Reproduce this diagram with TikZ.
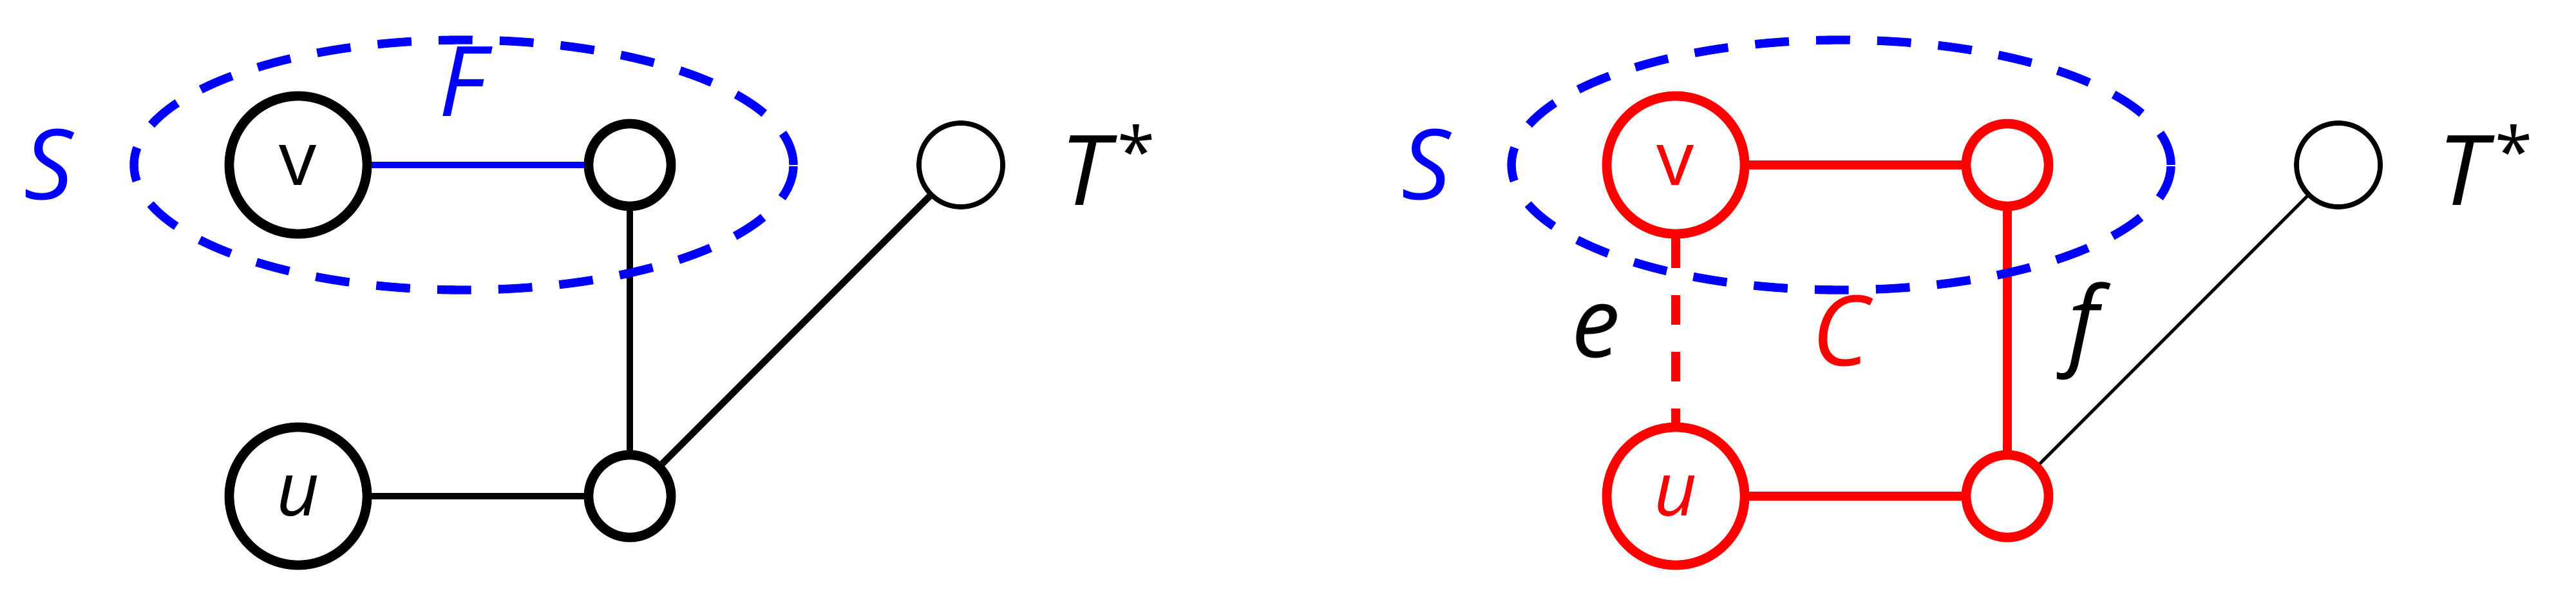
\documentclass[tikz,border=0pt]{standalone}
\usepackage{fontspec}
\setmainfont{Open Sans}
\usepackage{xcolor}
\usetikzlibrary{math}
\definecolor{myblue}{RGB}{0,0,255}
\definecolor{myred}{RGB}{255,0,0}

\tikzset{
 bignode/.style={circle,draw,line width=4.2pt,minimum size=2.14cm,inner sep=0pt,font=\fontsize{33}{35}\selectfont},
 smallnode/.style={circle,draw,line width=4.2pt,minimum size=1.28cm,inner sep=0pt},
 tnode/.style={circle,draw,line width=2.2pt,minimum size=1.3cm,inner sep=0pt},
 biglabel/.style={font=\fontsize{43}{45}\selectfont},
 setline/.style={color=myblue,line width=3.8pt,dash pattern=on 15pt off 12pt},
}

\begin{document}
\begin{tikzpicture}
\tikzmath{
\dx=21.39;%shift of right graph
\yt=6.99;%top row
\yb=1.85;%bottom row
}
\useasboundingbox (0,0) rectangle (40,9.55);

%left graph
\node[bignode] (v1) at (4.63,\yt) {v};
\node[bignode] (u1) at (4.63,\yb) {\textit{u}};
\node[smallnode] (a1) at (9.78,\yt) {};
\node[smallnode] (b1) at (9.78,\yb) {};
\node[tnode] (t1) at (14.92,\yt) {};
\draw[color=myblue,line width=3pt] (v1) -- (a1);
\draw[line width=3pt] (a1) -- (b1);
\draw[line width=3pt] (u1) -- (b1);
\draw[line width=3pt] (b1) -- (t1);
%set S
\draw[setline] (7.20,\yt) ellipse (5.12 and 1.94);
\node[biglabel,color=myblue] (s1) at (0.77,\yt) {\textit{S}};
\node[biglabel,color=myblue] (f1) at (7.23,8.28) {\textit{F}};
\node[biglabel] (l1) at (17.2,\yt) {\textit{T}\raisebox{0.3em}{\fontsize{30}{30}\selectfont *}};

%right graph
\begin{scope}[xshift=\dx cm]
\node[bignode,color=myred] (v2) at (4.63,\yt) {v};
\node[bignode,color=myred] (u2) at (4.63,\yb) {\textit{u}};
\node[smallnode,color=myred] (a2) at (9.78,\yt) {};
\node[smallnode,color=myred] (b2) at (9.78,\yb) {};
\node[tnode] (t2) at (14.92,\yt) {};
\draw[color=myred,line width=3.8pt,dash pattern=on 13pt off 12pt] (v2) -- (u2);
\draw[color=myred,line width=4pt] (v2) -- (a2);
\draw[color=myred,line width=4pt] (a2) -- (b2);
\draw[color=myred,line width=4pt] (u2) -- (b2);
\draw[line width=1.4pt] (b2) -- (t2);
%set S
\draw[setline] (7.20,\yt) ellipse (5.12 and 1.94);
\node[biglabel,color=myblue] (s2) at (0.77,\yt) {\textit{S}};
\node[biglabel] (e2) at (3.39,4.41) {\textit{e}};
\node[biglabel,color=myred] (c2) at (7.22,4.41) {\textit{C}};
\node[biglabel] (ff2) at (11.06,4.41) {\textit{f}};
\node[biglabel] (l2) at (17.2,\yt) {\textit{T}\raisebox{0.3em}{\fontsize{30}{30}\selectfont *}};
\end{scope}
\end{tikzpicture}
\end{document}
